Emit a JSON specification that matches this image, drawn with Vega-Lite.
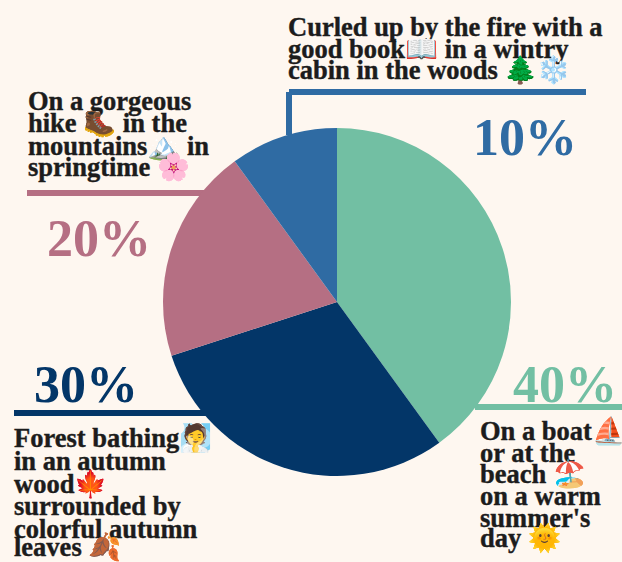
{"$schema":"https://vega.github.io/schema/vega-lite/v6.json","width":622,"height":562,"autosize":"none","padding":0,"background":"#fef7f0","view":{"stroke":null},"datasets":{"slices":[{"season":"Summer","share":40,"rank":1},{"season":"Autumn","share":30,"rank":2},{"season":"Spring","share":20,"rank":3},{"season":"Winter","share":10,"rank":4}],"rules":[{"season":"Winter","a":289,"a2":586,"b":92,"b2":92},{"season":"Winter","a":289,"a2":289,"b":92,"b2":135},{"season":"Spring","a":27,"a2":235,"b":193,"b2":193},{"season":"Autumn","a":14,"a2":210,"b":413,"b2":413},{"season":"Summer","a":475,"a2":622,"b":407,"b2":407}],"lines":[{"a":288,"b":36,"t":"Curled up by the fire with a"},{"a":288,"b":58,"t":"good book📖 in a wintry"},{"a":288,"b":79,"t":"cabin in the woods 🌲❄️"},{"a":28,"b":110,"t":"On a gorgeous"},{"a":28,"b":132,"t":"hike 🥾 in the"},{"a":28,"b":155,"t":"mountains🏔️ in"},{"a":28,"b":176,"t":"springtime 🌸"},{"a":14,"b":447,"t":"Forest bathing🧖"},{"a":14,"b":470,"t":"in an autumn"},{"a":14,"b":493,"t":"wood🍁"},{"a":14,"b":515,"t":"surrounded by"},{"a":14,"b":538,"t":"colorful autumn"},{"a":14,"b":556,"t":"leaves 🍂"},{"a":480,"b":440,"t":"On a boat⛵"},{"a":480,"b":462,"t":"or at the"},{"a":480,"b":483,"t":"beach 🏖️"},{"a":480,"b":505,"t":"on a warm"},{"a":480,"b":527,"t":"summer's"},{"a":480,"b":547,"t":"day 🌞"}],"pcts":[{"season":"Winter","a":473,"b":155,"t":"10%"},{"season":"Spring","a":47,"b":256,"t":"20%"},{"season":"Autumn","a":34,"b":402,"t":"30%"},{"season":"Summer","a":513,"b":402,"t":"40%"}]},"encoding":{"color":{"field":"season","type":"nominal","legend":null,"scale":{"domain":["Summer","Autumn","Spring","Winter"],"range":["#72bfa3","#033668","#b56f83","#2f6ba3"]}}},"layer":[{"data":{"name":"rules"},"mark":{"type":"rule","strokeWidth":6},"encoding":{"x":{"field":"a","type":"quantitative","axis":null,"scale":{"domain":[0,622],"range":[0,622],"nice":false}},"x2":{"field":"a2"},"y":{"field":"b","type":"quantitative","axis":null,"scale":{"domain":[0,562],"range":[0,562],"nice":false}},"y2":{"field":"b2"}}},{"data":{"name":"slices"},"mark":{"type":"arc","radius":174},"encoding":{"theta":{"field":"share","type":"quantitative","stack":true,"scale":{"domain":[0,100]}},"order":{"field":"rank","type":"ordinal"},"x":{"datum":337,"type":"quantitative"},"y":{"datum":302,"type":"quantitative"}}},{"data":{"name":"pcts"},"mark":{"type":"text","align":"left","baseline":"alphabetic","font":"Liberation Serif","fontWeight":"bold","fontSize":52},"encoding":{"x":{"field":"a","type":"quantitative"},"y":{"field":"b","type":"quantitative"},"text":{"field":"t"}}},{"data":{"name":"lines"},"mark":{"type":"text","align":"left","baseline":"alphabetic","font":"Liberation Serif","fontWeight":"bold","fontSize":26.5,"stroke":"#1c1c1c","strokeWidth":0.4},"encoding":{"x":{"field":"a","type":"quantitative"},"y":{"field":"b","type":"quantitative"},"text":{"field":"t"},"color":{"value":"#1c1c1c"}}}]}
